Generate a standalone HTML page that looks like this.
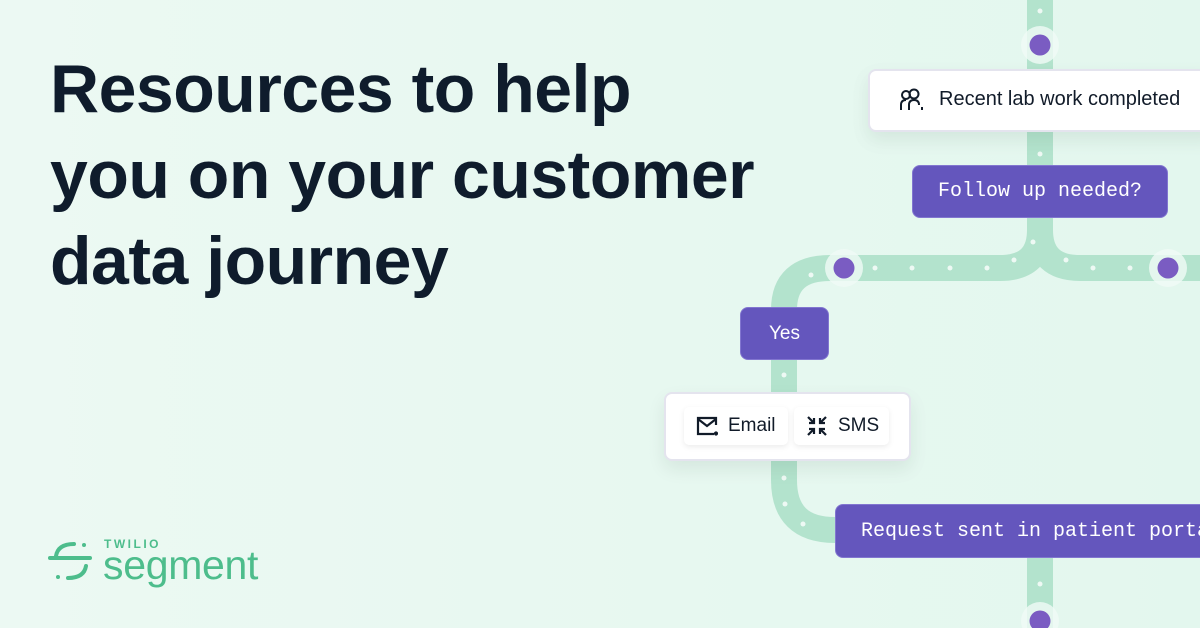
<!DOCTYPE html>
<html><head><style>
body{margin:0;width:1200px;height:628px;overflow:hidden;background:linear-gradient(90deg,#ecf9f3,#e3f7ee);font-family:"Liberation Sans",sans-serif;position:relative}
h1{position:absolute;left:50px;top:46px;margin:0;font-size:68px;line-height:86px;font-weight:700;color:#0f1c2c;letter-spacing:-0.5px}
.box{position:absolute;box-sizing:border-box;border-radius:8px}
.w{background:#fff;border:2px solid #e4e4ee;box-shadow:0 8px 18px rgba(0,40,30,.08)}
.p{background:#6456bd;border:1px solid #8276d0;color:#fff;font-family:"Liberation Mono",monospace;font-size:20px;display:flex;align-items:center}
.chip{position:absolute;background:#fff;border-radius:5px;box-shadow:0 2px 6px rgba(0,0,0,.08);display:flex;align-items:center;font-size:19px;color:#111b29;top:407px;height:38px}
</style></head><body>
<svg width="1200" height="628" style="position:absolute;left:0;top:0">
<g fill="none" stroke="#b3e3cd" stroke-width="26">
<path d="M1040 0V230Q1040 268 1000 268H830Q784 268 784 310V480Q784 530 835 530H900"/>
<path d="M1040 230Q1040 268 1080 268H1200"/>
<path d="M1040 540V628"/>
</g>
<g fill="#eef9f4">
<circle cx="1040" cy="11" r="2.5"/><circle cx="1040" cy="154" r="2.5"/><circle cx="1033" cy="242" r="2.5"/>
<circle cx="875" cy="268" r="2.5"/><circle cx="912" cy="268" r="2.5"/><circle cx="950" cy="268" r="2.5"/><circle cx="987" cy="268" r="2.5"/><circle cx="1014" cy="260" r="2.5"/>
<circle cx="1066" cy="260" r="2.5"/><circle cx="1093" cy="268" r="2.5"/><circle cx="1130" cy="268" r="2.5"/>
<circle cx="811" cy="275" r="2.5"/><circle cx="784" cy="375" r="2.5"/><circle cx="784" cy="478" r="2.5"/><circle cx="785" cy="504" r="2.5"/><circle cx="803" cy="524" r="2.5"/><circle cx="1040" cy="584" r="2.5"/>
</g>
<g><circle cx="1040" cy="45" r="19" fill="#f0faf6" opacity=".8"/><circle cx="1040" cy="45" r="10.5" fill="#7a5cc2"/>
<circle cx="844" cy="268" r="19" fill="#f0faf6" opacity=".8"/><circle cx="844" cy="268" r="10.5" fill="#7a5cc2"/>
<circle cx="1168" cy="268" r="19" fill="#f0faf6" opacity=".8"/><circle cx="1168" cy="268" r="10.5" fill="#7a5cc2"/>
<circle cx="1040" cy="621" r="19" fill="#f0faf6" opacity=".8"/><circle cx="1040" cy="621" r="10.5" fill="#7a5cc2"/></g>
</svg>
<h1>Resources to help<br>you on your customer<br>data journey</h1>
<div class="box w" style="left:868px;top:69px;width:350px;height:63px"></div>
<svg style="position:absolute;left:898px;top:88px" width="28" height="24" fill="none" stroke="#111b29" stroke-width="2"><circle cx="8" cy="7" r="4"/><circle cx="16" cy="6" r="4.5"/><path d="M3 22v-5q0-5 5-5M11 22v-5q0-5 5-5q5 0 5 5"/><path d="M24 19v3"/></svg>
<div style="position:absolute;left:939px;top:88px;font-size:20px;color:#111b29">Recent lab work completed</div>
<div class="box p" style="left:912px;top:165px;width:256px;height:53px;justify-content:center">Follow up needed?</div>
<div class="box p" style="left:740px;top:307px;width:89px;height:53px;justify-content:center;font-family:'Liberation Sans',sans-serif;font-size:19px">Yes</div>
<div class="box w" style="left:664px;top:392px;width:247px;height:69px"></div>
<div class="chip" style="left:684px;width:104px"><svg style="margin:0 10px 0 12px" width="22" height="20" fill="none" stroke="#111b29" stroke-width="2.2"><path d="M20 9V2H2v16h16"/><path d="M2 3l9 7 9-7"/><circle cx="20" cy="17.5" r="1" fill="#111b29"/></svg>Email</div>
<div class="chip" style="left:794px;width:95px"><svg style="margin:0 10px 0 12px" width="22" height="22" fill="none" stroke="#111b29" stroke-width="2.2"><path d="M2 2l6 6M8 3v5H3M20 2l-6 6M14 3v5h5M2 20l6-6M3 14h5v5M20 20l-6-6M19 14h-5v5"/></svg>SMS</div>
<div class="box p" style="left:835px;top:504px;width:400px;height:54px;padding-left:25px">Request sent in patient portal</div>
<svg style="position:absolute;left:48px;top:538px" width="46" height="46" fill="none" stroke="#4dbd8c" stroke-width="4" stroke-linecap="round"><path d="M8 18q2-12 18-12"/><path d="M2 20h40"/><path d="M38 28q-2 12-18 12"/><circle cx="36" cy="7" r="2" fill="#4dbd8c" stroke="none"/><circle cx="10" cy="39" r="2" fill="#4dbd8c" stroke="none"/></svg>
<div style="position:absolute;left:104px;top:537px;font-size:12px;font-weight:700;letter-spacing:2.5px;color:#4dbd8c">TWILIO</div>
<div style="position:absolute;left:103px;top:542px;font-size:41px;color:#4dbd8c;letter-spacing:-0.3px">segment</div>
</body></html>
